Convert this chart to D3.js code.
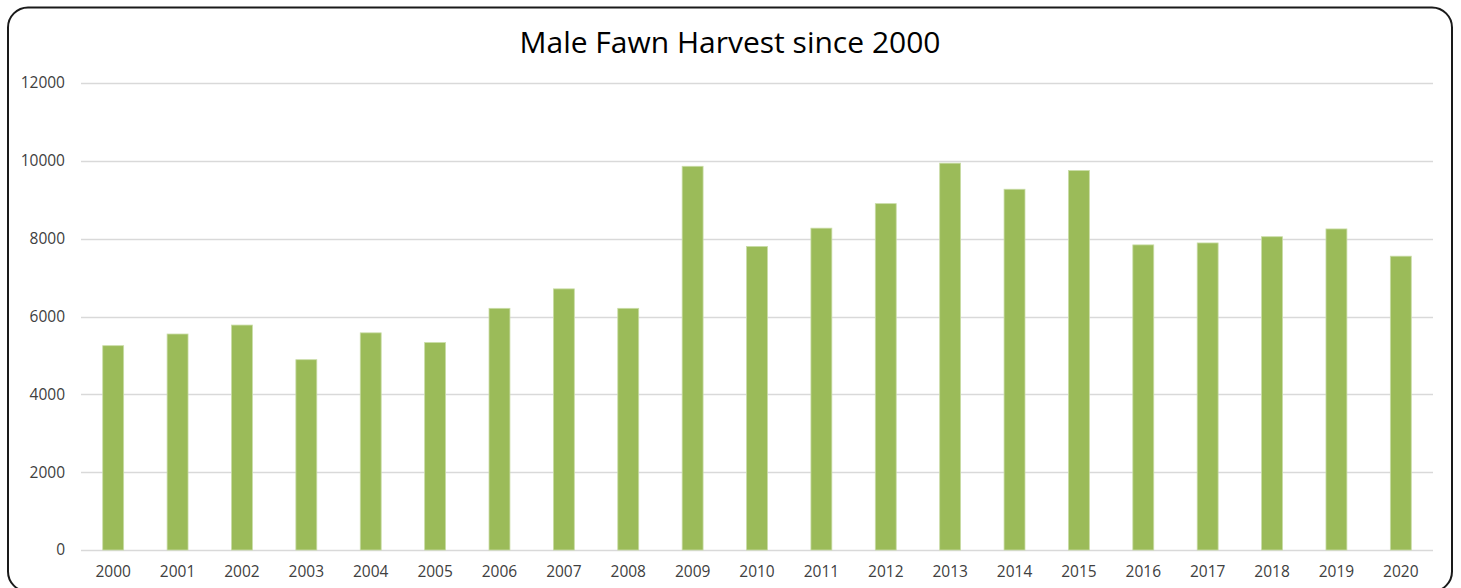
<!DOCTYPE html>
<html>
<head>
<meta charset="utf-8">
<script src="https://cdn.jsdelivr.net/npm/d3@7"></script>
<style>
  html, body { margin: 0; padding: 0; background: #fff; }
  svg { display: block; }
</style>
</head>
<body>
<svg id="chart" width="1461" height="588"></svg>
<script>
// Harvest counts by season year
const years = ["2000","2001","2002","2003","2004","2005","2006","2007","2008","2009","2010",
               "2011","2012","2013","2014","2015","2016","2017","2018","2019","2020"];
const harvest = [5250, 5550, 5780, 4890, 5580, 5330, 6210, 6710, 6210, 9860, 7800,
                 8270, 8900, 9940, 9270, 9750, 7840, 7890, 8050, 8250, 7550];
const yTicks = [0, 2000, 4000, 6000, 8000, 10000, 12000];
const title = "Male Fawn Harvest since 2000";

const W = 1461, H = 588;
const plot = { left: 81, right: 1433, top: 83, bottom: 550 };

const svg = d3.select("#chart");

// Rounded chart frame
svg.append("rect")
  .attr("x", 8).attr("y", 7.5)
  .attr("width", 1444).attr("height", 584)
  .attr("rx", 20).attr("ry", 20)
  .attr("fill", "#fff")
  .attr("stroke", "#1a1a1a")
  .attr("stroke-width", 2);

const x = d3.scaleBand()
  .domain(years)
  .range([plot.left, plot.right])
  .paddingInner(0.675)
  .paddingOuter(0.3375);

const y = d3.scaleLinear()
  .domain([0, 12000])
  .range([plot.bottom, plot.top]);

// Horizontal gridlines
svg.append("g")
  .selectAll("line")
  .data(yTicks)
  .join("line")
  .attr("x1", plot.left).attr("x2", plot.right)
  .attr("y1", d => Math.round(y(d)) + 0.5)
  .attr("y2", d => Math.round(y(d)) + 0.5)
  .attr("stroke", "#d9d9d9")
  .attr("stroke-width", 1.5);

const labelFont = "'Open Sans', sans-serif";
const labelSize = 15.5;

// Y axis labels
const yAxis = d3.axisLeft(y).tickValues(yTicks).tickSize(0).tickPadding(0).tickFormat(d3.format("d"));
svg.append("g")
  .attr("transform", `translate(${plot.left - 16},0)`)
  .call(yAxis)
  .call(g => g.select(".domain").remove())
  .call(g => g.selectAll("text")
    .attr("fill", "#404040")
    .attr("font-family", labelFont)
    .attr("font-size", labelSize));

// Bars
svg.append("g")
  .selectAll("rect")
  .data(years.map((yr, i) => ({ yr, v: harvest[i] })))
  .join("rect")
  .attr("x", d => x(d.yr))
  .attr("y", d => y(d.v))
  .attr("width", x.bandwidth())
  .attr("height", d => y(0) - y(d.v))
  .attr("fill", "#9bbb59")
  .attr("stroke", "#c9dca6")
  .attr("stroke-width", 0.8);

// X axis labels
const xAxis = d3.axisBottom(x).tickSize(0).tickPadding(0);
svg.append("g")
  .attr("transform", `translate(0,${plot.bottom + 16})`)
  .call(xAxis)
  .call(g => g.select(".domain").remove())
  .call(g => g.selectAll("text")
    .attr("fill", "#404040")
    .attr("font-family", labelFont)
    .attr("font-size", labelSize));

// Title
svg.append("text")
  .attr("x", 730)
  .attr("y", 53)
  .attr("text-anchor", "middle")
  .attr("font-family", "'Open Sans', sans-serif")
  .attr("font-size", 30)
  .attr("fill", "#000")
  .text(title);
</script>
</body>
</html>
